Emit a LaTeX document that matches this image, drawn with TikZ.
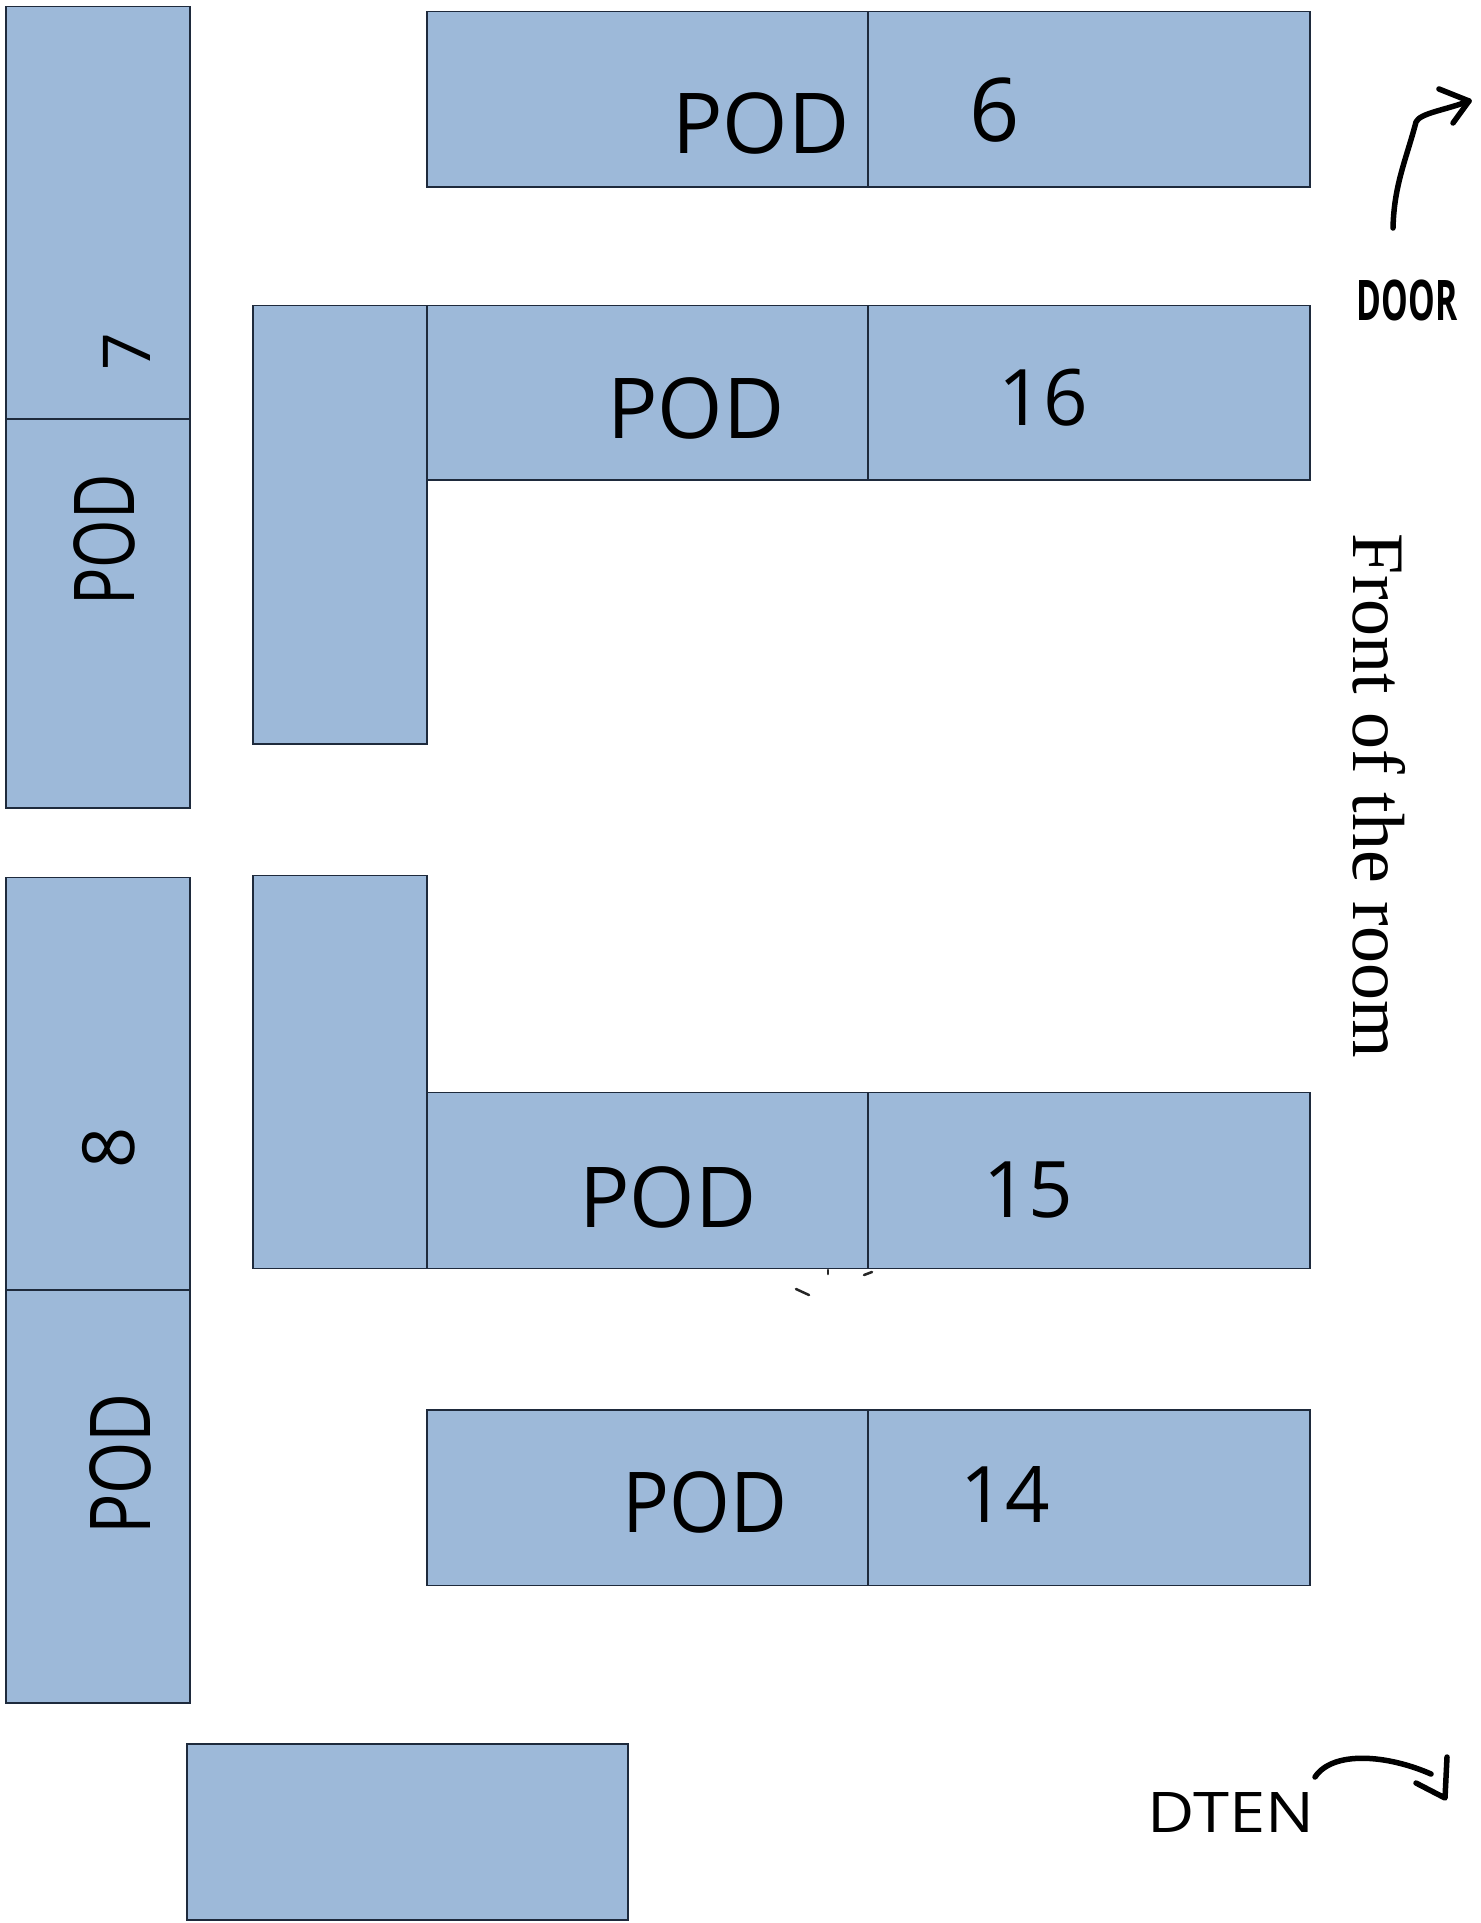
\documentclass[tikz,border=0pt]{standalone}
\usepackage{fontspec}
\setmainfont{Open Sans}
\newfontfamily\roomfont{Liberation Serif}
\usetikzlibrary{arrows.meta}
\definecolor{podblue}{HTML}{9DB9D9}
\definecolor{podline}{HTML}{1E2A3C}
\tikzset{
  podbox/.style={draw=podline,fill=podblue,line width=1.6pt,inner sep=0pt,outer sep=0pt,anchor=north west},
  hand/.style={inner sep=0pt,text=black,font=\fontsize{84}{90}\selectfont},
  handnum/.style={hand,font=\fontsize{88}{94}\selectfont},
  twodigit/.style={hand,font=\fontsize{78}{84}\selectfont},
  small/.style={inner sep=0pt,text=black,font=\fontsize{56}{60}\selectfont},
  stroke/.style={draw=black,line width=5.5pt,line cap=round,line join=round},
  speck/.style={draw=black!85,line width=2.5pt,line cap=round}
}
\newcommand{\podrect}[5]{\node[podbox,minimum width=#4pt,minimum height=#5pt] (#1) at (#2,#3) {};}
\begin{document}
\begin{tikzpicture}[x=1pt,y=-1pt]
\useasboundingbox (0,0) rectangle (1481,1923);
% left column
\podrect{leftA}{6}{6.5}{184}{412.5}
\podrect{leftB}{6}{419}{184}{389}
\podrect{leftC}{6}{877.5}{184}{412.5}
\podrect{leftD}{6}{1290}{184}{413}
% row 6
\podrect{sixL}{426.7}{11.5}{441.5}{175.5}
\podrect{sixR}{868.2}{11.5}{441.5}{175.5}
% row 16
\podrect{cornerA}{252.7}{305.5}{174}{438.5}
\podrect{sixteenL}{426.7}{305.5}{441.5}{174.5}
\podrect{sixteenR}{868.2}{305.5}{441.5}{174.5}
% row 15
\podrect{cornerB}{252.7}{875.5}{174}{393}
\podrect{fifteenL}{426.7}{1092.5}{441.5}{176}
\podrect{fifteenR}{868.2}{1092.5}{441.5}{176}
% row 14
\podrect{fourteenL}{426.7}{1410}{441.5}{175.5}
\podrect{fourteenR}{868.2}{1410}{441.5}{175.5}
% bottom
\podrect{dten}{186.7}{1744}{441.5}{176}
% labels
\node[hand] (p6) at (761,123) {POD};
\node[handnum] (n6) at (995,110) {6};
\node[hand] (p16) at (696,408) {POD};
\node[twodigit] (n16) at (1043,398) {16};
\node[hand] (p15) at (668,1197) {POD};
\node[twodigit] (n15) at (1028,1190) {15};
\node[hand] (p14) at (705,1502) {\scalebox{0.93}[1]{POD}};
\node[twodigit] (n14) at (1005,1494) {14};
\node[hand,rotate=90] (p7) at (104,540) {\scalebox{0.74}[1]{POD}};
\node[hand,rotate=90,font=\fontsize{66}{70}\selectfont] (n7) at (127,352) {7};
\node[hand,rotate=90] (p8) at (120,1464) {\scalebox{0.8}[1]{POD}};
\node[hand,rotate=90,font=\fontsize{72}{76}\selectfont] (n8) at (109,1148) {8};
\node[small,font=\fontsize{56}{60}\selectfont\bfseries] (door) at (1407,300) {\scalebox{0.6}[1]{DOOR}};
\node[small] (dtenlabel) at (1231,1812) {\scalebox{1.16}[1]{DTEN}};
\node[inner sep=0pt,rotate=-90,font=\fontsize{74}{80}\selectfont\roomfont] (front) at (1379,796) {Front of the room};
% door arrow
\coordinate (dA) at (1393,228);
\coordinate (dB) at (1469,101);
\coordinate (dC) at (1439,89);
\coordinate (dD) at (1453,123);
\draw[stroke] (dA) .. controls (1394,185) and (1406,160) .. (1416,122) .. controls (1420,113) and (1446,110) .. (dB);
\draw[stroke] (dC) -- (dB) -- (dD);
% DTEN arrow
\coordinate (tA) at (1315,1777);
\coordinate (tB) at (1431,1774);
\coordinate (tC) at (1447,1757);
\coordinate (tD) at (1445,1798);
\coordinate (tE) at (1416,1783);
\draw[stroke] (tA) .. controls (1333,1750) and (1388,1755) .. (tB);
\draw[stroke] (tC) -- (tD) -- (tE);
% stray specks
\coordinate (s1) at (828,1270);
\coordinate (s2) at (828,1274);
\coordinate (s3) at (864,1275);
\coordinate (s4) at (872,1272);
\coordinate (s5) at (796,1289);
\coordinate (s6) at (809,1295);
\draw[speck] (s1) -- (s2);
\draw[speck] (s3) -- (s4);
\draw[speck] (s5) -- (s6);
\end{tikzpicture}
\end{document}
